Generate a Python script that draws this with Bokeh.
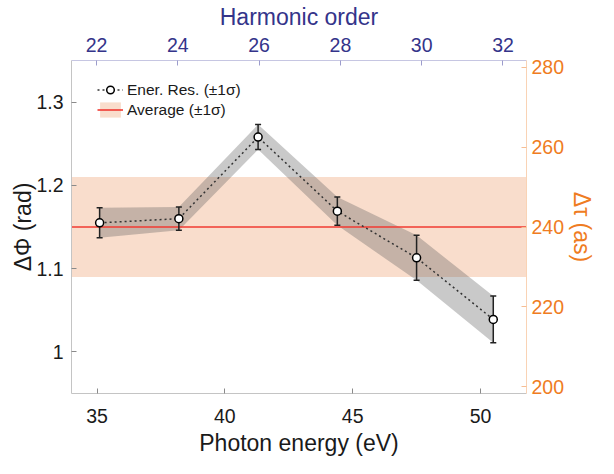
from bokeh.plotting import figure
from bokeh.models import (LinearAxis, Range1d, FixedTicker, ColumnDataSource,
                          Legend, LegendItem)
from bokeh.embed import file_html
from bokeh.resources import INLINE

# ---- data ----
energy = [35.1, 38.2, 41.3, 44.4, 47.5, 50.5]          # photon energy (eV)
dphi = [1.155, 1.160, 1.258, 1.169, 1.113, 1.039]      # delta phi (rad)
dphi_err = [0.018, 0.014, 0.015, 0.017, 0.027, 0.028]  # +-1 sigma
avg_phi = 1.15
avg_err = 0.06

x_lim = [34.0, 51.8]
y_lim = [0.95, 1.35]
ev_per_order = 1.59            # harmonic order <-> photon energy
as_per_rad = 240 / 1.15        # delta tau (as) per delta phi (rad)

energy_ticks = [35, 40, 45, 50]
harm_ticks = [22, 24, 26, 28, 30, 32]
phi_ticks = [1.0, 1.1, 1.2, 1.3]
phi_tick_labels = ["1", "1.1", "1.2", "1.3"]
tau_ticks = [200, 220, 240, 260, 280]

FONT = "Liberation Sans"
ORANGE = "#EF7C22"
BLUE = "#34348A"

p = figure(width=598, height=458, output_backend="svg", toolbar_location=None,
           x_range=Range1d(*x_lim), y_range=Range1d(*y_lim),
           min_border_left=71, min_border_right=68, min_border_top=59,
           min_border_bottom=65)
p.outline_line_color = None
p.grid.visible = False
p.background_fill_color = "white"
p.border_fill_color = "white"

p.extra_x_ranges = {"harm": Range1d(x_lim[0] / ev_per_order, x_lim[1] / ev_per_order)}
p.extra_y_ranges = {"tau": Range1d(y_lim[0] * as_per_rad, y_lim[1] * as_per_rad)}

# ---- average band and line ----
band_src = ColumnDataSource(dict(x=x_lim, lo=[avg_phi - avg_err] * 2,
                                 hi=[avg_phi + avg_err] * 2, m=[avg_phi] * 2))
r_avg_band = p.varea(x="x", y1="lo", y2="hi", source=band_src,
                     fill_color="#F9DDCC", fill_alpha=1.0)

# ---- uncertainty band of data ----
lower = [v - e for v, e in zip(dphi, dphi_err)]
upper = [v + e for v, e in zip(dphi, dphi_err)]
src = ColumnDataSource(dict(x=energy, y=dphi, lower=lower, upper=upper))
p.varea(x="x", y1="lower", y2="upper", source=src,
        fill_color="#5a5a5a", fill_alpha=0.33)

r_avg_line = p.line(x="x", y="m", source=band_src, line_color="#F03A32", line_width=1.6)

r_line = p.line(x="x", y="y", source=src, line_color="#333333", line_width=1.5,
                line_dash="2 3")
# error bars
p.segment(x0="x", y0="lower", x1="x", y1="upper", source=src,
          line_color="#222222", line_width=1.5)
p.scatter(x="x", y="upper", source=src, marker="dash", size=6,
          line_color="#222222", line_width=1.5)
p.scatter(x="x", y="lower", source=src, marker="dash", size=6,
          line_color="#222222", line_width=1.5)
r_pts = p.scatter(x="x", y="y", source=src, marker="circle", size=8,
                  fill_color="white", line_color="black", line_width=1.5)

# ---- axes ----
def style(ax, color, line_color, tick_color, standoff, label_standoff):
    ax.axis_line_color = line_color
    ax.major_tick_line_color = tick_color
    ax.major_tick_in = 5
    ax.major_tick_out = 0
    ax.minor_tick_line_color = None
    ax.major_label_text_font = FONT
    ax.major_label_text_font_size = "19.5px"
    ax.major_label_text_color = color
    ax.major_label_standoff = standoff
    ax.axis_label_text_font = FONT
    ax.axis_label_text_font_size = "23px"
    ax.axis_label_text_font_style = "normal"
    ax.axis_label_text_color = color
    ax.axis_label_standoff = label_standoff

xa = p.xaxis[0]
xa.ticker = FixedTicker(ticks=energy_ticks)
xa.axis_label = "Photon energy (eV)"
style(xa, "#1a1a1a", "#C4C4C4", "#8a8a8a", 15, 4)

ya = p.yaxis[0]
ya.ticker = FixedTicker(ticks=phi_ticks)
ya.major_label_overrides = dict(zip(phi_ticks, phi_tick_labels))
ya.axis_label = "ΔΦ (rad)"
style(ya, "#1a1a1a", "#C4C4C4", "#8a8a8a", 8, -3)

top = LinearAxis(x_range_name="harm", axis_label="Harmonic order",
                 ticker=FixedTicker(ticks=harm_ticks))
style(top, BLUE, "#C6C6E2", "#9C9CCC", 9, 5)
p.add_layout(top, "above")

right = LinearAxis(y_range_name="tau", axis_label="Δτ (as)",
                   ticker=FixedTicker(ticks=tau_ticks))
style(right, ORANGE, "#F9D3B5", "#F6BE94", 5, 2)
p.add_layout(right, "right")

# ---- legend ----
legend = Legend(items=[
    LegendItem(label="Ener. Res. (±1σ)", renderers=[r_line, r_pts]),
    LegendItem(label="Average (±1σ)", renderers=[r_avg_band, r_avg_line]),
], location=(26, 274))
legend.background_fill_alpha = 0
legend.border_line_color = None
legend.padding = 0
legend.margin = 0
legend.spacing = 1
legend.glyph_width = 26
legend.glyph_height = 19
legend.label_height = 19
legend.label_standoff = 4
legend.label_text_font = FONT
legend.label_text_font_size = "15.5px"
legend.label_text_color = "#1a1a1a"
p.add_layout(legend)

open("out.html", "w").write(file_html(p, INLINE))
